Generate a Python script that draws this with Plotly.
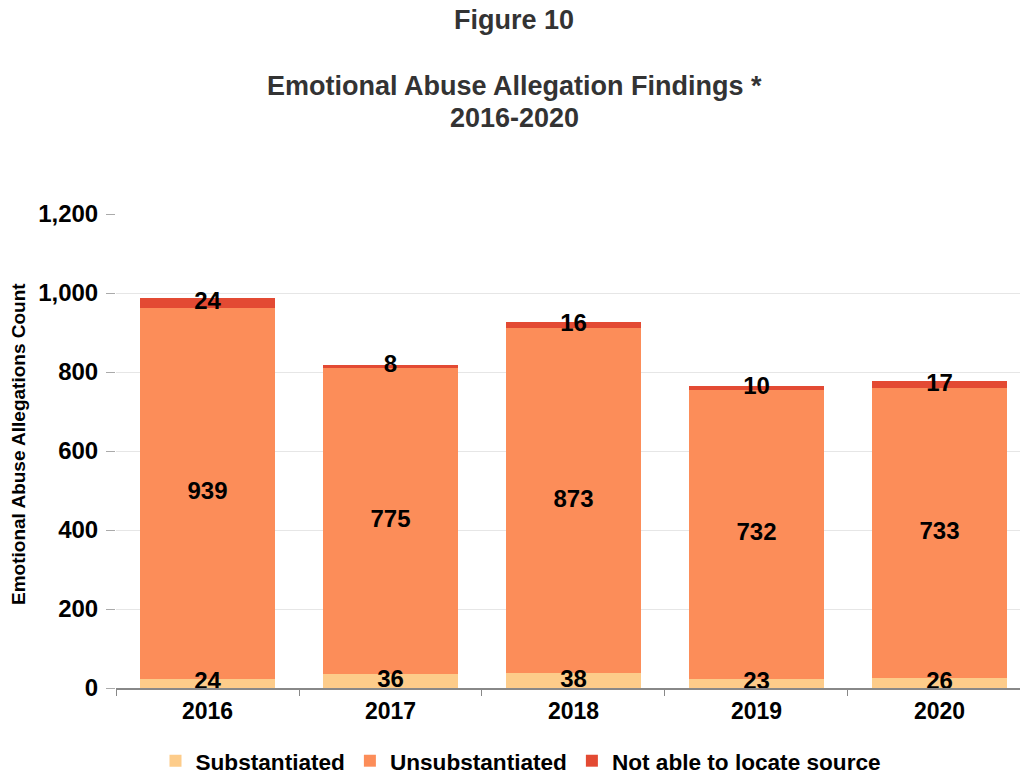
import plotly.graph_objects as go

years = ["2016", "2017", "2018", "2019", "2020"]
substantiated = [24, 36, 38, 23, 26]
unsubstantiated = [939, 775, 873, 732, 733]
not_located = [24, 8, 16, 10, 17]
y_ticks = [0, 200, 400, 600, 800, 1000, 1200]

FONT = "Liberation Sans"
W, H = 1020, 778
PLOT_TOP, PLOT_BOTTOM, PLOT_LEFT, PLOT_RIGHT = 214, 688, 116, 1020
series = [
    ("Substantiated", substantiated, "#fdcc8a"),
    ("Unsubstantiated", unsubstantiated, "#fc8d59"),
    ("Not able to locate source", not_located, "#e34a33"),
]


def py(pix):
    return (PLOT_BOTTOM - pix) / (PLOT_BOTTOM - PLOT_TOP)


def px(pix):
    return (pix - PLOT_LEFT) / (PLOT_RIGHT - PLOT_LEFT)


fig = go.Figure()
base = [0] * len(years)
for name, vals, color in series:
    fig.add_trace(go.Bar(
        x=years, y=vals, name=name,
        marker=dict(color=color, line=dict(width=0)),
        hoverinfo="x+y+name",
    ))
    mids = [b + v / 2 for b, v in zip(base, vals)]
    fig.add_trace(go.Scatter(
        x=years, y=mids, mode="text", text=[str(v) for v in vals],
        textposition="middle center", showlegend=False, hoverinfo="skip",
        textfont=dict(family=FONT, size=24, color="#000000", weight="bold"),
        cliponaxis=False,
    ))
    base = [b + v for b, v in zip(base, vals)]

fig.update_layout(
    width=W, height=H,
    barmode="stack", bargap=0.26,
    plot_bgcolor="white", paper_bgcolor="white",
    margin=dict(l=PLOT_LEFT, r=W - PLOT_RIGHT, t=PLOT_TOP, b=H - PLOT_BOTTOM, autoexpand=False),
    font=dict(family=FONT, color="#000000"),
    showlegend=True,
    legend=dict(orientation="h", x=(524 - 3) / W, xref="container", xanchor="center",
                y=1 - 761 / H, yref="container", yanchor="middle", traceorder="normal",
                font=dict(family=FONT, size=22.6, color="#000000", weight="bold"),
                itemsizing="constant"),
)
for txt, ypix in [("Figure 10", 20), ("Emotional Abuse Allegation Findings *", 86), ("2016-2020", 118)]:
    fig.add_annotation(text="<b>" + txt + "</b>", xref="paper", yref="paper",
                       x=px(514), y=py(ypix), yanchor="middle", xanchor="center",
                       showarrow=False,
                       font=dict(family=FONT, size=27, color="#333333"))
fig.add_annotation(text="<b>Emotional Abuse Allegations Count</b>", xref="paper", yref="paper",
                   x=px(18), y=py(444), xanchor="center", yanchor="middle", textangle=-90,
                   showarrow=False, font=dict(family=FONT, size=19, color="#000000"))

fig.update_xaxes(
    type="category", range=[-0.5, 4.44], automargin=False,
    showline=True, linecolor="#888888", linewidth=1.5,
    ticks="outside", tickson="boundaries", ticklen=6, tickcolor="#888888",
    ticklabelstandoff=2,
    tickfont=dict(family=FONT, size=23, color="#000000", weight="bold"),
    showgrid=False,
)
fig.update_yaxes(
    range=[0, 1200], tickvals=y_ticks, tickformat=",", automargin=False,
    showgrid=True, gridcolor="#e6e6e6", gridwidth=1,
    ticks="outside", ticklen=9, tickcolor="#aaaaaa", ticklabelstandoff=3,
    tickfont=dict(family=FONT, size=24, color="#000000", weight="bold"),
    zeroline=False, showline=False,
)

fig.write_html("out.html", config={"displayModeBar": False},
               post_script="document.body.style.margin='0';")
